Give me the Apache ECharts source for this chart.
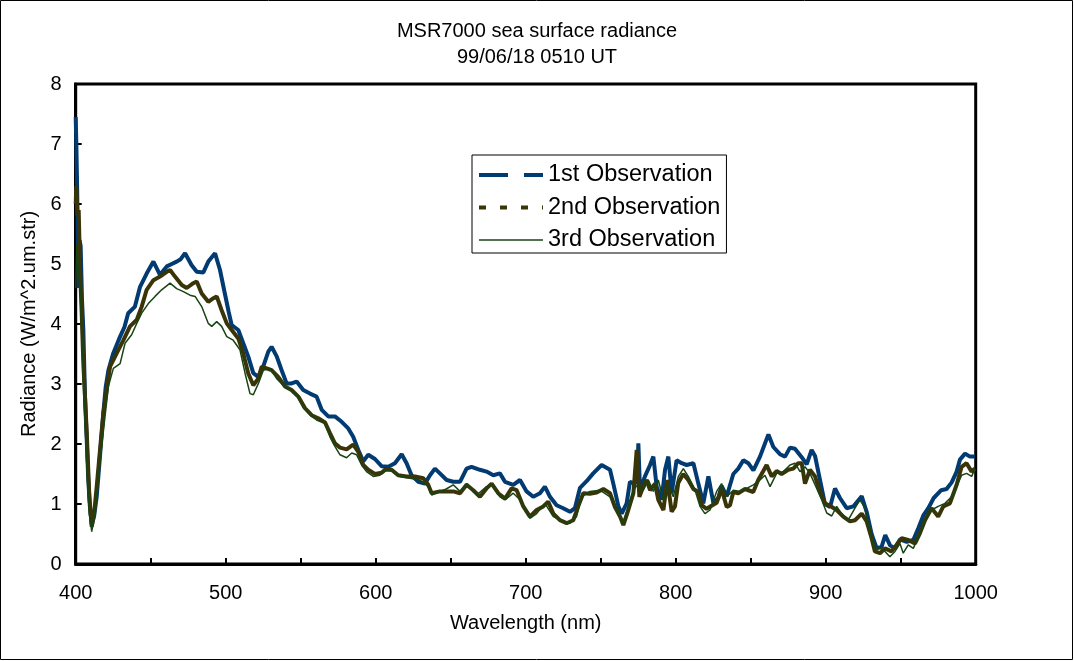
<!DOCTYPE html>
<html>
<head>
<meta charset="utf-8">
<script src="https://cdn.jsdelivr.net/npm/echarts@6/dist/echarts.min.js"></script>
<style>
html,body{margin:0;padding:0;background:#fff;}
#chart{width:1074px;height:661px;}
</style>
</head>
<body>
<div id="chart"></div>
<script>
const seriesNames = ['1st Observation', '2nd Observation', '3rd Observation'];
const xTicks = [400, 500, 600, 700, 800, 900, 1000];
const yTicks = [0, 1, 2, 3, 4, 5, 6, 7, 8];

const wl1 = [400.0,400.5,401.0,401.5,402.0,402.6,403.3,404.2,405.1,406.2,407.3,408.4,409.5,410.7,412.3,414.0,416.2,418.4,420.0,421.8,425.0,429.6,432.5,435.0,439.5,442.9,447.3,451.8,456.2,460.7,464.0,467.3,470.0,472.9,477.3,480.7,485.1,488.4,492.9,496.2,499.5,502.0,504.0,508.4,511.7,515.0,518.4,521.7,525.0,528.4,530.6,534.0,537.3,540.6,543.9,547.3,551.7,556.2,560.6,564.0,568.4,572.8,577.3,581.7,585.0,588.4,591.7,595.0,599.5,603.9,608.4,612.8,617.3,620.6,623.9,628.4,632.8,636.2,639.5,642.8,647.3,651.7,656.2,660.6,663.9,669.5,673.9,678.4,682.8,686.2,691.7,696.2,700.6,705.0,709.5,712.8,716.2,720.6,725.0,729.5,732.8,736.2,740.6,745.0,750.6,756.2,758.4,761.8,764.0,767.3,769.5,772.9,774.5,775.1,776.2,779.5,782.9,785.1,787.3,790.6,792.9,795.1,797.3,800.6,804.0,807.3,811.8,815.1,818.4,821.8,825.1,828.4,830.6,834.0,838.4,841.7,845.1,848.4,851.8,856.2,861.8,865.1,869.5,872.9,876.2,879.5,884.0,887.3,890.6,892.9,896.2,899.5,902.9,906.2,909.5,914.0,918.4,924.0,927.3,930.6,934.0,937.3,939.7,942.9,946.2,949.5,954.0,958.4,961.8,965.1,968.4,972.0,977.0,980.6,984.0,987.3,989.5,992.9,996.2,999.5];
const obs1 = [7.45,6.9,6.2,5.2,4.6,5.4,5.3,4.4,3.9,2.8,2.1,1.4,0.95,0.65,0.8,1.12,1.8,2.51,2.95,3.23,3.51,3.79,3.95,4.18,4.29,4.62,4.84,5.04,4.82,4.96,5.0,5.04,5.08,5.18,4.98,4.87,4.86,5.04,5.18,4.9,4.5,4.2,3.98,3.9,3.68,3.46,3.18,3.12,3.29,3.54,3.62,3.46,3.23,3.01,3.01,3.04,2.9,2.84,2.79,2.57,2.46,2.46,2.37,2.26,2.12,1.9,1.71,1.82,1.75,1.63,1.62,1.68,1.83,1.68,1.48,1.37,1.34,1.48,1.59,1.51,1.4,1.37,1.37,1.59,1.62,1.57,1.54,1.48,1.51,1.37,1.32,1.4,1.21,1.12,1.18,1.29,1.12,0.98,0.93,0.87,0.93,1.27,1.38,1.51,1.65,1.57,1.34,0.96,0.84,1.01,1.37,1.34,1.5,2.01,1.23,1.46,1.65,1.79,1.29,1.07,1.57,1.79,1.18,1.73,1.68,1.65,1.68,1.34,1.01,1.46,1.02,1.1,1.3,1.13,1.5,1.59,1.73,1.68,1.56,1.79,2.16,1.95,1.83,1.79,1.94,1.92,1.78,1.66,1.9,1.8,1.4,1.0,0.95,1.26,1.1,0.93,0.96,1.13,0.87,0.5,0.26,0.29,0.48,0.31,0.26,0.41,0.37,0.4,0.6,0.81,0.93,1.1,1.23,1.25,1.36,1.54,1.74,1.84,1.79,1.79];

const wl2 = [400.0,400.4,401.2,402.0,402.9,404.0,405.1,407.3,409.1,410.7,412.3,414.0,418.4,422.9,427.3,431.8,436.2,440.7,444.0,447.3,451.8,456.2,460.7,462.9,466.2,470.7,474.0,478.4,480.7,484.0,488.4,491.8,494.0,497.3,500.7,504.0,508.4,511.7,515.0,518.4,521.7,524.0,527.3,530.6,535.0,539.5,543.9,548.4,552.8,557.3,561.7,566.2,569.5,572.8,576.2,580.6,585.0,588.4,591.7,595.0,599.5,603.9,606.2,610.6,615.0,620.6,626.2,631.7,635.0,637.3,642.8,647.3,651.7,656.2,660.6,665.0,669.5,673.9,677.3,681.7,686.2,690.6,694.0,698.4,702.8,707.3,711.7,715.0,718.4,722.8,727.3,731.7,735.0,738.4,742.8,747.3,751.8,756.2,759.5,762.9,765.1,768.4,771.8,774.0,775.8,778.4,780.6,782.9,786.2,788.4,791.8,794.4,797.3,799.5,801.7,805.0,808.4,811.8,815.0,817.3,820.6,823.9,827.3,830.6,834.0,836.2,838.4,841.7,846.2,851.7,855.0,858.4,860.6,864.0,867.3,870.6,875.0,878.4,881.7,884.0,886.2,889.5,892.9,896.2,899.5,902.8,907.3,911.7,916.2,919.5,924.0,927.3,930.6,932.8,936.2,939.5,943.9,947.3,950.6,955.0,959.5,962.8,966.2,970.6,975.0,978.4,982.8,987.3,990.6,993.9,997.3,999.5];
const obs2 = [6.0,6.3,5.8,5.9,4.9,4.18,3.34,2.23,1.12,0.62,0.85,1.29,2.51,3.29,3.51,3.73,3.96,4.07,4.29,4.57,4.73,4.79,4.87,4.9,4.79,4.65,4.6,4.68,4.71,4.51,4.37,4.43,4.46,4.23,4.01,3.9,3.76,3.51,3.18,2.98,3.09,3.29,3.26,3.23,3.12,2.96,2.9,2.79,2.6,2.48,2.43,2.36,2.18,2.01,1.94,1.91,1.99,1.87,1.65,1.57,1.5,1.52,1.57,1.57,1.48,1.46,1.46,1.43,1.32,1.18,1.21,1.21,1.21,1.18,1.32,1.23,1.12,1.26,1.34,1.18,1.09,1.26,1.23,0.96,0.79,0.9,0.96,1.04,0.84,0.73,0.68,0.73,0.96,1.18,1.17,1.19,1.25,1.18,0.95,0.79,0.65,0.9,1.18,1.9,1.12,1.29,1.4,1.23,1.34,1.07,0.9,1.4,0.87,0.96,1.35,1.5,1.4,1.25,1.2,0.98,0.92,0.97,1.02,1.25,0.95,0.98,1.2,1.18,1.25,1.2,1.4,1.55,1.65,1.46,1.55,1.5,1.57,1.59,1.68,1.68,1.34,1.57,1.46,1.2,1.01,0.97,0.9,0.79,0.71,0.73,0.84,0.71,0.43,0.21,0.18,0.26,0.21,0.32,0.43,0.4,0.34,0.51,0.73,0.93,0.79,0.96,1.01,1.32,1.62,1.68,1.54,1.59];

const wl3 = [400.0,400.7,401.5,402.9,404.0,405.6,407.3,409.1,410.7,412.0,413.6,417.3,421.8,425.1,429.6,432.9,437.3,440.7,444.0,448.4,452.9,457.3,462.9,467.3,471.8,476.2,479.6,484.0,488.4,490.7,494.0,497.3,500.7,505.0,509.5,512.9,516.2,518.4,521.8,525.1,529.5,534.0,538.4,542.9,547.3,551.8,557.3,560.6,566.2,569.5,572.8,576.2,580.6,584.0,587.3,590.6,593.9,598.4,602.8,607.3,611.5,616.2,622.8,629.5,635.0,637.3,642.8,647.0,651.7,656.2,660.6,667.3,673.9,677.3,682.8,686.2,691.7,696.2,702.8,707.3,712.8,718.4,725.0,729.5,733.9,737.3,742.8,749.5,756.2,758.4,761.8,765.1,768.4,771.8,775.1,778.4,781.8,785.1,788.4,791.8,795.1,798.4,801.8,805.1,808.4,812.9,816.2,819.5,822.9,827.3,830.6,834.0,838.4,842.9,847.3,851.8,856.2,859.5,862.9,867.3,871.8,876.2,879.5,882.9,886.2,889.5,894.0,897.3,900.7,904.0,907.3,910.6,915.0,919.5,922.8,926.2,929.5,932.8,936.2,939.5,942.8,946.2,949.5,951.7,955.0,958.4,962.8,966.2,970.6,975.0,979.5,983.9,987.3,990.6,993.9,997.3,999.5];
const obs3 = [4.6,5.34,5.0,4.62,3.84,2.79,1.68,0.84,0.54,0.75,1.07,1.96,2.96,3.26,3.34,3.68,3.82,4.01,4.18,4.34,4.46,4.57,4.68,4.59,4.54,4.48,4.46,4.29,4.01,3.96,4.04,3.96,3.79,3.73,3.57,3.18,2.84,2.82,3.01,3.23,3.26,3.09,2.98,2.9,2.82,2.6,2.46,2.4,2.34,2.12,1.96,1.82,1.77,1.85,1.82,1.65,1.54,1.46,1.48,1.57,1.54,1.46,1.43,1.4,1.29,1.15,1.21,1.25,1.32,1.21,1.34,1.15,1.29,1.32,1.12,1.07,1.18,1.07,0.76,0.84,1.01,0.79,0.71,0.68,0.79,1.12,1.21,1.23,1.12,1.05,0.84,0.68,0.96,1.23,1.34,1.23,1.4,1.21,1.4,1.07,1.32,1.12,1.46,1.59,1.46,1.23,0.96,0.84,0.9,1.21,1.34,1.12,1.23,1.21,1.26,1.32,1.4,1.48,1.29,1.51,1.54,1.65,1.68,1.54,1.62,1.51,1.26,1.07,0.85,0.8,0.96,0.84,0.73,0.93,1.07,0.93,0.51,0.26,0.26,0.21,0.12,0.21,0.34,0.18,0.32,0.26,0.51,0.73,0.9,0.96,1.01,1.12,1.29,1.48,1.51,1.46,1.59];

const pairs = (xs, ys) => xs.map((x, i) => [x, ys[i]]);
const FONT = '"Liberation Sans", Arial, sans-serif';
const colors = ['#023a72', '#3a3509', '#184414'];

const chart = echarts.init(document.getElementById('chart'), null, {renderer: 'canvas'});
chart.setOption({
  animation: false,
  backgroundColor: '#fff',
  title: {
    text: 'MSR7000 sea surface radiance\n99/06/18 0510 UT',
    left: 'center',
    top: 13,
    textStyle: {fontFamily: FONT, fontSize: 20, fontWeight: 'normal', color: '#000', lineHeight: 26}
  },
  graphic: [{
    type: 'rect', silent: true, z: -10,
    shape: {x: 0.5, y: 0.5, width: 1072, height: 659},
    style: {fill: 'none', stroke: '#000', lineWidth: 1}
  }],
  legend: {
    left: 472, top: 155,
    orient: 'vertical',
    backgroundColor: '#fff',
    borderColor: '#000', borderWidth: 1, borderRadius: 0,
    padding: [7, 6, 0, 5],
    itemWidth: 64, itemHeight: 14, itemGap: 6.5,
    itemStyle: {color: 'rgba(0,0,0,0)', borderWidth: 0, opacity: 0},
    textStyle: {fontFamily: FONT, fontSize: 23.5, color: '#000', lineHeight: 26},
    data: [
      {name: seriesNames[0], lineStyle: {color: colors[0], width: 4, type: [29, 16]}},
      {name: seriesNames[1], lineStyle: {color: colors[1], width: 4, type: [7, 14]}},
      {name: seriesNames[2], lineStyle: {color: colors[2], width: 1.5, type: 'solid'}}
    ]
  },
  grid: {
    left: 75.7, right: 98.3, top: 84, bottom: 97,
    show: true, borderColor: '#000', borderWidth: 3, backgroundColor: 'transparent'
  },
  xAxis: {
    type: 'value', min: 400, max: 1000, interval: 50,
    name: 'Wavelength (nm)', nameLocation: 'middle', nameGap: 49,
    nameTextStyle: {fontFamily: FONT, fontSize: 20, color: '#000'},
    axisLine: {show: true, onZero: false, lineStyle: {color: '#000', width: 3}},
    axisTick: {show: true, inside: true, length: 6, lineStyle: {color: '#000', width: 2}},
    axisLabel: {
      fontFamily: FONT, fontSize: 20, color: '#000', margin: 19,
      formatter: v => xTicks.indexOf(v) >= 0 ? String(v) : ''
    },
    splitLine: {show: false}
  },
  yAxis: {
    type: 'value', min: yTicks[0], max: yTicks[yTicks.length - 1], interval: 1,
    name: 'Radiance (W/m^2.um.str)', nameLocation: 'middle', nameGap: 31,
    nameTextStyle: {fontFamily: FONT, fontSize: 20, color: '#000'},
    axisLine: {show: true, onZero: false, lineStyle: {color: '#000', width: 3}},
    axisTick: {show: true, inside: true, length: 6, lineStyle: {color: '#000', width: 2}},
    axisLabel: {fontFamily: FONT, fontSize: 20, color: '#000', margin: 14},
    splitLine: {show: false}
  },
  series: [
    {name: seriesNames[0], type: 'line', data: pairs(wl1, obs1), symbol: 'none', showSymbol: false,
     lineStyle: {color: colors[0], width: 4}, itemStyle: {color: colors[0]}},
    {name: seriesNames[1], type: 'line', data: pairs(wl2, obs2), symbol: 'none', showSymbol: false,
     lineStyle: {color: colors[1], width: 4}, itemStyle: {color: colors[1]}},
    {name: seriesNames[2], type: 'line', data: pairs(wl3, obs3), symbol: 'none', showSymbol: false,
     lineStyle: {color: colors[2], width: 1.5}, itemStyle: {color: colors[2]}}
  ]
});
</script>
</body>
</html>
